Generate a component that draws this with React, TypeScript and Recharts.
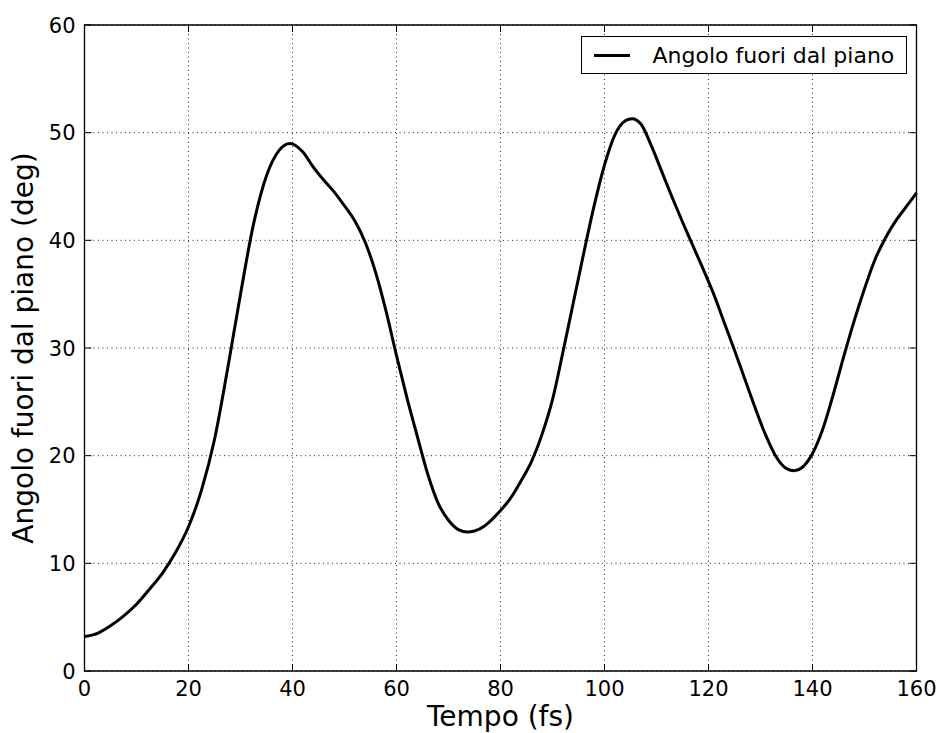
import { CartesianGrid, Line, LineChart, ReferenceArea, XAxis, YAxis } from "recharts";

// tempo (fs) e angolo fuori dal piano (deg)
const times = [
  0, 2.5, 5, 7.5, 10, 12.5, 15, 17.5, 20, 22.5, 25, 27.5, 30, 32.5, 35, 37.5, 39.5,
  42, 44, 46, 48, 50, 52, 54, 56, 58, 60, 62, 64, 66, 68, 70, 72, 73.6, 75, 77, 80,
  82, 84, 86, 88, 90, 92, 94, 96, 98, 100, 102, 104, 105.3, 107, 109, 111, 113, 115,
  117, 119, 121, 123, 125, 127, 129, 131, 133, 135, 136.5, 138, 140, 142, 144, 146,
  148, 150, 152, 154, 156, 158, 160,
];
const angles = [
  3.2, 3.5, 4.2, 5.1, 6.2, 7.6, 9.1, 11.0, 13.4, 16.8, 21.5, 28.0, 35.0, 41.5, 46.0,
  48.4, 49.0, 48.2, 46.8, 45.6, 44.5, 43.2, 41.8, 39.8, 37.0, 33.4, 29.3, 25.4, 21.8,
  18.3, 15.6, 14.0, 13.1, 12.9, 13.0, 13.5, 14.9, 16.1, 17.7, 19.5, 22.0, 25.2, 29.6,
  34.2, 38.8, 43.2, 47.0, 49.8, 51.1, 51.3, 50.8, 48.8, 46.4, 44.0, 41.7, 39.5, 37.3,
  35.0, 32.4, 29.8, 27.1, 24.4, 21.9, 19.9, 18.8, 18.6, 18.9, 20.2, 22.5, 25.7, 29.2,
  32.5, 35.5, 38.2, 40.2, 41.8, 43.1, 44.4,
];
const xTicks = [0, 20, 40, 60, 80, 100, 120, 140, 160];
const yTicks = [0, 10, 20, 30, 40, 50, 60];
const seriesName = "Angolo fuori dal piano";

const data = times.map((t, i) => ({ t, angle: angles[i] }));

const W = 941;
const H = 733;
const PLOT_W = 832;
const PLOT_H = 646;
const FONT = "DejaVu Sans";
const TICK_LEN = 7;

function XTick(props: any) {
  const { x, y, payload } = props;
  return (
    <g>
      <line x1={x} x2={x} y1={y} y2={y - TICK_LEN} stroke="#000" />
      <line x1={x} x2={x} y1={y - PLOT_H} y2={y - PLOT_H + TICK_LEN} stroke="#000" />
      <text x={x} y={y + 25} textAnchor="middle" fontSize={21} fontFamily={FONT} fill="#000">
        {payload.value}
      </text>
    </g>
  );
}

function YTick(props: any) {
  const { x, y, payload } = props;
  return (
    <g>
      <line x1={x} x2={x + TICK_LEN} y1={y} y2={y} stroke="#000" />
      <line x1={x + PLOT_W} x2={x + PLOT_W - TICK_LEN} y1={y} y2={y} stroke="#000" />
      <text x={x - 9} y={y} dy="0.36em" textAnchor="end" fontSize={21} fontFamily={FONT} fill="#000">
        {payload.value}
      </text>
    </g>
  );
}

export default function App() {
  return (
    <div style={{ position: "absolute", left: 0, top: 0, width: W, height: H, background: "#fff" }}>
      <LineChart
        width={W}
        height={H}
        data={data}
        margin={{ top: 25, right: 24.5, bottom: 0, left: 0 }}
      >
        <CartesianGrid stroke="#000" strokeWidth={1} strokeDasharray="1 3.5" strokeOpacity={0.85} />
        <XAxis
          dataKey="t"
          type="number"
          domain={[0, 160]}
          ticks={xTicks}
          height={62}
          tickSize={0}
          tickMargin={0}
          tickLine={false}
          axisLine={false}
          tick={<XTick />}
          label={(p: any) => (
            <text
              x={p.viewBox.x + p.viewBox.width / 2}
              y={p.viewBox.y + 55}
              textAnchor="middle"
              fontSize={28}
              fontFamily={FONT}
              fill="#000"
            >
              Tempo (fs)
            </text>
          )}
        />
        <YAxis
          type="number"
          domain={[0, 60]}
          ticks={yTicks}
          width={84.5}
          tickSize={0}
          tickMargin={0}
          tickLine={false}
          axisLine={false}
          tick={<YTick />}
          label={(p: any) => (
            <text
              x={33}
              y={p.viewBox.y + p.viewBox.height / 2}
              transform={`rotate(-90 33 ${p.viewBox.y + p.viewBox.height / 2})`}
              textAnchor="middle"
              fontSize={28}
              fontFamily={FONT}
              fill="#000"
            >
              Angolo fuori dal piano (deg)
            </text>
          )}
        />
        <ReferenceArea x1={0} x2={160} y1={0} y2={60} stroke="#000" strokeWidth={1.3} fill="none" fillOpacity={0} />
        <Line
          dataKey="angle"
          type="monotone"
          stroke="#000"
          strokeWidth={3}
          dot={false}
          isAnimationActive={false}
        />
      </LineChart>
      <div
        style={{
          position: "absolute",
          left: 580.5,
          top: 36,
          width: 326.5,
          height: 38,
          boxSizing: "border-box",
          border: "1.2px solid #000",
          background: "#fff",
          display: "flex",
          alignItems: "center",
          fontFamily: FONT,
          fontSize: 22,
          color: "#000",
        }}
      >
        <div style={{ marginLeft: 12, width: 36, height: 3, background: "#000" }} />
        <span style={{ marginLeft: 23, whiteSpace: "nowrap" }}>{seriesName}</span>
      </div>
    </div>
  );
}
